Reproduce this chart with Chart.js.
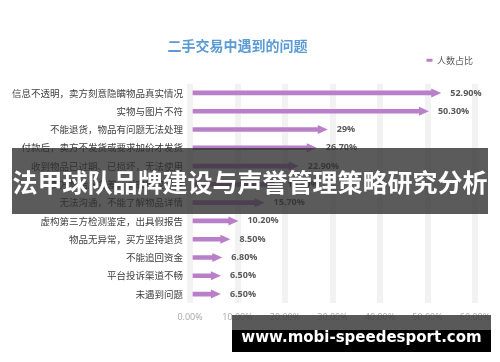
<!DOCTYPE html>
<html>
<head>
<meta charset="utf-8">
<script src="https://cdn.jsdelivr.net/npm/chart.js@4.4.0/dist/chart.umd.min.js"></script>
<style>
  html, body { margin: 0; padding: 0; background: #fff; }
  #wrap { position: relative; width: 500px; height: 362px; overflow: hidden; }
  #banner {
    position: absolute; left: 12px; top: 148px; width: 476px; height: 66px;
    background: rgba(45, 45, 45, 0.78); color: #fff;
    font: bold 25px "Noto Sans CJK SC", sans-serif; line-height: 66px;
    text-align: center; white-space: nowrap;
  }
  #mark {
    position: absolute; left: 232px; top: 315px; width: 259px; height: 37px;
    background: linear-gradient(to bottom, rgba(60,60,60,0.85) 0, rgba(60,60,60,0.85) 15px, #000 15px);
    color: #fff; font: bold 15px "DejaVu Sans", sans-serif;
    text-align: center; line-height: 44px; white-space: nowrap;
  }
</style>
</head>
<body>
<div id="wrap">
  <canvas id="chart"></canvas>
  <div id="banner">法甲球队品牌建设与声誉管理策略研究分析</div>
  <div id="mark">www.mobi-speedesport.com</div>
</div>
<script>
// 二手交易中遇到的问题
const problems = [
  "信息不透明，卖方刻意隐瞒物品真实情况",
  "实物与图片不符",
  "不能退货，物品有问题无法处理",
  "付款后，卖方不发货或要求加价才发货",
  "收到物品已过期、已损坏，无法使用",
  "卖方售后服务差，买家维权困难",
  "无法沟通，不能了解物品详情",
  "虚构第三方检测鉴定，出具假报告",
  "物品无异常，买方坚持退货",
  "不能追回资金",
  "平台投诉渠道不畅",
  "未遇到问题"
];
const shares = [52.9, 50.3, 29, 26.7, 22.9, 18.6, 15.7, 10.2, 8.5, 6.8, 6.5, 6.5];
const shareLabels = ["52.90%", "50.30%", "29%", "26.70%", "22.90%", "18.60%", "15.70%", "10.20%", "8.50%", "6.80%", "6.50%", "6.50%"];
const xTicks = [0, 10, 20, 30, 40, 50, 60];

const purple = "#b97fc9";
const headLen = 10;
const headHalf = 4.5;

// shaft stops short of the tip, then the head is drawn on top
const arrowPlugin = {
  id: "arrows",
  beforeDatasetDraw(chart, args) {
    args.meta.data.forEach((bar) => {
      bar.$tip = bar.x;
      bar.x = bar.x - headLen + 2;
    });
  },
  afterDatasetDraw(chart, args) {
    const ctx = chart.ctx;
    ctx.save();
    args.meta.data.forEach((bar, i) => {
      const tip = bar.$tip;
      bar.x = tip;
      ctx.fillStyle = purple;
      ctx.beginPath();
      ctx.moveTo(tip - headLen, bar.y - headHalf);
      ctx.lineTo(tip, bar.y);
      ctx.lineTo(tip - headLen, bar.y + headHalf);
      ctx.closePath();
      ctx.fill();

      ctx.fillStyle = "#595959";
      ctx.font = "bold 9px 'Open Sans', sans-serif";
      ctx.textAlign = "left";
      ctx.textBaseline = "middle";
      ctx.fillText(shareLabels[i], tip + 9, bar.y);
    });
    ctx.restore();
  }
};

new Chart(document.getElementById("chart"), {
  type: "bar",
  data: {
    labels: problems,
    datasets: [{
      label: "人数占比",
      data: shares,
      backgroundColor: purple,
      barThickness: 4,
    }],
  },
  options: {
    indexAxis: "y",
    responsive: true,
    maintainAspectRatio: false,
    animation: false,
    layout: { padding: { left: 0, right: 25, top: 0, bottom: 30 } },
    plugins: {
      tooltip: { enabled: false },
      title: {
        display: true,
        text: "二手交易中遇到的问题",
        color: "#5b9bd5",
        font: { family: "'Noto Sans CJK SC', sans-serif", size: 14, weight: "bold" },
        padding: { top: 37, bottom: 0 },
      },
      legend: {
        position: "top",
        align: "end",
        labels: {
          color: "#595959",
          boxWidth: 6,
          boxHeight: 3,
          padding: 2,
          font: { family: "'Noto Sans CJK SC', sans-serif", size: 9 },
        },
      },
    },
    scales: {
      x: {
        min: 0,
        max: 60,
        afterBuildTicks: (scale) => { scale.ticks = xTicks.map((v) => ({ value: v })); },
        ticks: {
          color: "#a6a6a6",
          padding: 9,
          font: { family: "'Open Sans', sans-serif", size: 9 },
          callback: (v) => v.toFixed(2) + "%",
        },
        grid: { color: "#f2f2f2", lineWidth: 6, drawTicks: false },
        border: { display: false },
      },
      // empty strip between legend and plot
      gap: {
        axis: "x",
        position: "top",
        ticks: { display: false },
        grid: { display: false, drawTicks: false },
        border: { display: false },
        afterFit: (scale) => { scale.height = 9; },
      },
      y: {
        afterFit: (scale) => { scale.width = 190; },
        ticks: {
          color: "#404040",
          padding: 7,
          font: { family: "'Noto Sans CJK SC', sans-serif", size: 9.5 },
        },
        grid: { display: false, drawTicks: false },
        border: { display: false },
      },
    },
  },
  plugins: [arrowPlugin],
});
</script>
</body>
</html>
